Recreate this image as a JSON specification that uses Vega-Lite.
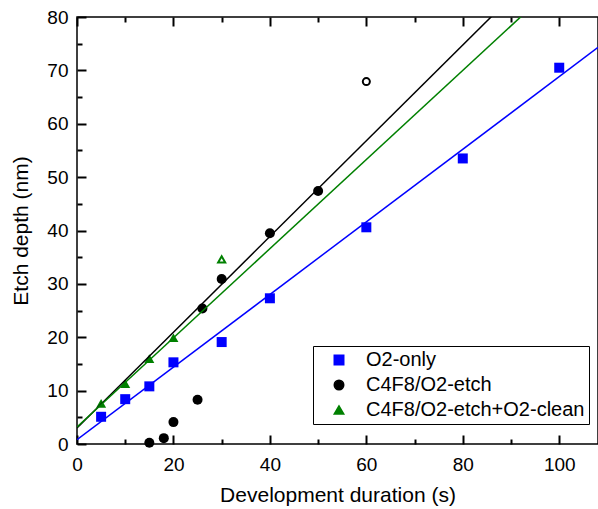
{
  "$schema": "https://vega.github.io/schema/vega-lite/v6.json",
  "width": 521,
  "height": 427,
  "autosize": {"type": "none"},
  "padding": {"left": 77, "top": 17, "right": 0, "bottom": 65},
  "background": "white",
  "config": {
    "view": {"stroke": "black", "strokeWidth": 1.5},
    "font": "Liberation Sans",
    "axis": {
      "domain": false,
      "ticks": true,
      "tickColor": "black",
      "tickWidth": 2,
      "tickOpacity": 1,
      "labelColor": "black",
      "labelFont": "Liberation Sans",
      "labelFontSize": 19,
      "labelFlush": false,
      "labelOverlap": false,
      "titleFont": "Liberation Sans",
      "titleFontSize": 21,
      "titleFontWeight": "normal",
      "titleColor": "black",
      "grid": false
    },
    "legend": {
      "labelFont": "Liberation Sans",
      "labelFontSize": 20,
      "labelColor": "black",
      "labelLimit": 400
    }
  },
  "datasets": {
    "pts": [
      {"series": "O2-only", "t": 5, "depth": 5.1, "open": false},
      {"series": "O2-only", "t": 10, "depth": 8.4, "open": false},
      {"series": "O2-only", "t": 15, "depth": 10.8, "open": false},
      {"series": "O2-only", "t": 20, "depth": 15.3, "open": false},
      {"series": "O2-only", "t": 30, "depth": 19.1, "open": false},
      {"series": "O2-only", "t": 40, "depth": 27.3, "open": false},
      {"series": "O2-only", "t": 60, "depth": 40.6, "open": false},
      {"series": "O2-only", "t": 80, "depth": 53.5, "open": false},
      {"series": "O2-only", "t": 100, "depth": 70.5, "open": false},
      {"series": "C4F8/O2-etch", "t": 15, "depth": 0.25, "open": false},
      {"series": "C4F8/O2-etch", "t": 18, "depth": 1.1, "open": false},
      {"series": "C4F8/O2-etch", "t": 20, "depth": 4.1, "open": false},
      {"series": "C4F8/O2-etch", "t": 25, "depth": 8.3, "open": false},
      {"series": "C4F8/O2-etch", "t": 26, "depth": 25.4, "open": false},
      {"series": "C4F8/O2-etch", "t": 30, "depth": 30.9, "open": false},
      {"series": "C4F8/O2-etch", "t": 40, "depth": 39.5, "open": false},
      {"series": "C4F8/O2-etch", "t": 50, "depth": 47.4, "open": false},
      {"series": "C4F8/O2-etch", "t": 60, "depth": 67.9, "open": true},
      {"series": "C4F8/O2-etch+O2-clean", "t": 5, "depth": 7.6, "open": false},
      {"series": "C4F8/O2-etch+O2-clean", "t": 10, "depth": 11.3, "open": false},
      {"series": "C4F8/O2-etch+O2-clean", "t": 15, "depth": 16.0, "open": false},
      {"series": "C4F8/O2-etch+O2-clean", "t": 20, "depth": 19.9, "open": false},
      {"series": "C4F8/O2-etch+O2-clean", "t": 30, "depth": 34.6, "open": true}
    ],
    "fits": [
      {"series": "O2-only", "t": 0, "depth": 0.8},
      {"series": "O2-only", "t": 108.04, "depth": 74.3},
      {"series": "C4F8/O2-etch", "t": 0, "depth": 3.0},
      {"series": "C4F8/O2-etch", "t": 108.04, "depth": 99.9},
      {"series": "C4F8/O2-etch+O2-clean", "t": 0, "depth": 3.2},
      {"series": "C4F8/O2-etch+O2-clean", "t": 108.04, "depth": 93.4}
    ]
  },
  "resolve": {"axis": {"x": "independent", "y": "independent"}},
  "layer": [
    {
      "data": {"name": "pts"},
      "transform": [{"filter": "!datum.open"}],
      "mark": {"type": "point", "filled": true, "opacity": 1, "strokeWidth": 0, "size": 100},
      "encoding": {
        "x": {
          "field": "t", "type": "quantitative",
          "scale": {"domain": [0, 108.04], "nice": false, "zero": false},
          "axis": {
            "orient": "bottom", "title": "Development duration (s)",
            "values": [0, 20, 40, 60, 80, 100],
            "offset": -9,
            "tickSize": 9,
            "labelPadding": 11,
            "titlePadding": 10
          }
        },
        "y": {
          "field": "depth", "type": "quantitative",
          "scale": {"domain": [0, 80], "nice": false, "zero": false},
          "axis": {
            "orient": "left", "title": "Etch depth (nm)",
            "values": [0, 10, 20, 30, 40, 50, 60, 70, 80],
            "offset": -9,
            "tickSize": 9,
            "labelPadding": 9,
            "titlePadding": 15
          }
        },
        "color": {
          "field": "series", "type": "nominal",
          "scale": {"domain": ["O2-only", "C4F8/O2-etch", "C4F8/O2-etch+O2-clean"], "range": ["#0000ff", "#000000", "#008000"]},
          "legend": {
            "title": null,
            "orient": "none",
            "legendX": 236,
            "legendY": 329,
            "strokeColor": "black",
            "padding": 4,
            "rowPadding": 5,
            "symbolOffset": 12,
            "labelOffset": 17,
            "symbolSize": 90
          }
        },
        "shape": {
          "field": "series", "type": "nominal",
          "scale": {"domain": ["O2-only", "C4F8/O2-etch", "C4F8/O2-etch+O2-clean"], "range": ["square", "circle", "triangle-up"]},
          "legend": {
            "title": null,
            "orient": "none",
            "legendX": 236,
            "legendY": 329,
            "strokeColor": "black",
            "padding": 4,
            "rowPadding": 5,
            "symbolOffset": 12,
            "labelOffset": 17,
            "symbolSize": 90
          }
        }
      }
    },
    {
      "data": {"name": "fits"},
      "mark": {"type": "line", "clip": true, "strokeWidth": 1.5},
      "encoding": {
        "x": {
          "field": "t", "type": "quantitative",
          "axis": {
            "orient": "top", "labels": false, "title": null,
            "values": [0, 20, 40, 60, 80, 100],
            "offset": -9,
            "tickSize": 9
          }
        },
        "y": {"field": "depth", "type": "quantitative", "axis": null},
        "stroke": {
          "field": "series", "type": "nominal",
          "scale": {"domain": ["O2-only", "C4F8/O2-etch", "C4F8/O2-etch+O2-clean"], "range": ["#0000ff", "#000000", "#008000"]},
          "legend": null
        },
        "detail": {"field": "series"}
      }
    },
    {
      "data": {"name": "pts"},
      "transform": [{"filter": "datum.open"}],
      "mark": {"type": "point", "filled": false, "opacity": 1, "strokeWidth": 2, "size": 50},
      "encoding": {
        "x": {
          "field": "t", "type": "quantitative",
          "axis": {
            "orient": "bottom", "labels": false, "title": null,
            "values": [10, 30, 50, 70, 90],
            "offset": -5,
            "tickSize": 5
          }
        },
        "y": {
          "field": "depth", "type": "quantitative",
          "axis": {
            "orient": "left", "labels": false, "title": null,
            "values": [5, 15, 25, 35, 45, 55, 65, 75],
            "offset": -5,
            "tickSize": 5
          }
        },
        "stroke": {"field": "series", "type": "nominal", "legend": null},
        "shape": {"field": "series", "type": "nominal"}
      }
    },
    {
      "data": {"name": "fits"},
      "mark": {"type": "point", "opacity": 0},
      "encoding": {
        "x": {
          "field": "t", "type": "quantitative",
          "axis": {
            "orient": "top", "labels": false, "title": null,
            "values": [10, 30, 50, 70, 90],
            "offset": -5,
            "tickSize": 5
          }
        },
        "y": {"field": "depth", "type": "quantitative", "axis": null}
      }
    }
  ]
}
